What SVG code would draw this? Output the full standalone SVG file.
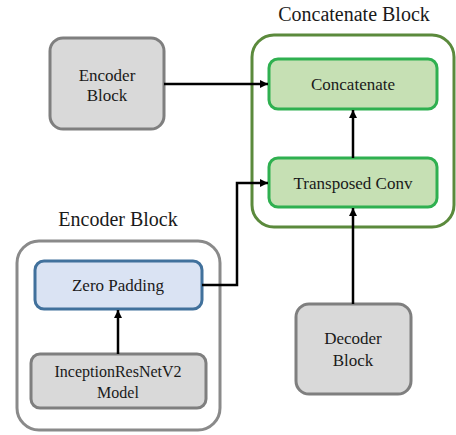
<svg xmlns="http://www.w3.org/2000/svg" width="456" height="435" viewBox="0 0 456 435">
<defs>
<marker id="ah" viewBox="0 0 10 10" refX="10" refY="5" markerWidth="8" markerHeight="8" markerUnits="userSpaceOnUse" orient="auto">
<path d="M0,0 L10,5 L0,10 Z" fill="#000"/>
</marker>
<style>
.t{font-size:17px}
.h{font-size:20px}
.gray{fill:#d9d9d9;stroke:#7f7f7f;stroke-width:3}
.green{fill:#c6e0b4;stroke:#2fb050;stroke-width:3}
.blue{fill:#dae3f3;stroke:#41719c;stroke-width:3}
.cont{fill:none;stroke-width:3}
.c{fill:none;stroke:#000;stroke-width:2.5;marker-end:url(#ah)}
</style>
</defs>
<rect width="456" height="435" fill="#fff"/>
<g font-family="Liberation Serif, Times New Roman, serif" fill="#1a1a1a" text-anchor="middle">
<g id="concat-block">
<rect class="cont" x="252" y="35" width="202" height="192" rx="22" stroke="#5b8a3c"/>
<text class="h" x="354" y="21">Concatenate Block</text>
</g>
<g id="encoder-group">
<rect class="cont" x="17" y="241" width="203" height="189" rx="22" stroke="#8a8a8a"/>
<text class="h" x="118" y="226">Encoder Block</text>
</g>
<g id="encoder-block">
<rect class="gray" x="50" y="38" width="114" height="91" rx="13"/>
<text class="t" x="107" y="81">Encoder</text>
<text class="t" x="107" y="101">Block</text>
</g>
<g id="concatenate">
<rect class="green" x="269" y="59" width="168" height="50" rx="9"/>
<text class="t" x="353" y="90">Concatenate</text>
</g>
<g id="transposed-conv">
<rect class="green" x="269" y="158" width="168" height="49" rx="9"/>
<text class="t" x="353" y="189">Transposed Conv</text>
</g>
<g id="zero-padding">
<rect class="blue" x="35" y="261" width="167" height="48" rx="9"/>
<text class="t" x="118" y="291">Zero Padding</text>
</g>
<g id="inception">
<rect class="gray" x="31" y="354" width="175" height="54" rx="9"/>
<text x="118" y="377" font-size="16">InceptionResNetV2</text>
<text x="118" y="398" font-size="16">Model</text>
</g>
<g id="decoder-block">
<rect class="gray" x="296" y="304" width="115" height="90" rx="13"/>
<text class="t" x="353" y="344">Decoder</text>
<text class="t" x="353" y="366">Block</text>
</g>
</g>
<g id="connectors">
<path class="c" d="M164,84 H268"/>
<path class="c" d="M353,158 V110"/>
<path class="c" d="M353,304 V208"/>
<path class="c" d="M118,354 V310"/>
<path class="c" d="M202,285 H237 V183 H268"/>
</g>
</svg>
